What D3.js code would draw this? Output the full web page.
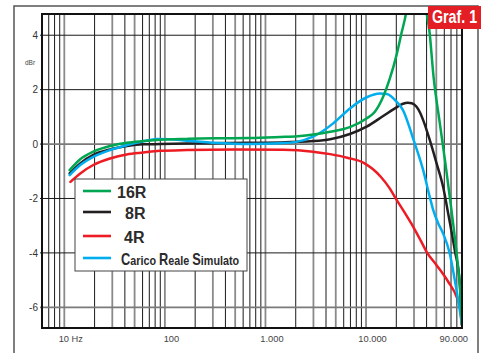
<!DOCTYPE html>
<html><head><meta charset="utf-8">
<script src="https://cdn.jsdelivr.net/npm/d3@7"></script>
<style>body{margin:0;background:#fff}svg{display:block}</style>
</head><body><svg id="c" width="481" height="353"></svg>
<script>
// ---- data ----
const seriesNames = ["16R", "8R", "4R", "Carico Reale Simulato"];
const freq16R = [11.3,14.4,19.4,28.5,42,61,90,165,300,700,1400,2100,3000,4400,7000,10100,12250,14800,17260,20100,22500,24900,28000,32000,36000,39700,42500,47000,54000,61500,70000,80000,86000,90000];
const db16R   = [-0.96,-0.56,-0.28,-0.07,0.05,0.11,0.16,0.19,0.21,0.22,0.26,0.29,0.35,0.45,0.63,0.94,1.19,1.74,2.41,3.27,4.07,4.78,6.2,7.2,6.6,4.9,4.22,2.45,0.8,-0.7,-2.3,-4.1,-5.3,-6.65];
const freq8R = [11.3,14.4,19.4,28.5,42,61,90,165,400,1400,3000,4400,6920,10140,14800,20140,23300,26000,28500,31800,34500,37000,43000,50300,58600,65600,76300,85500,90000];
const db8R   = [-1.08,-0.71,-0.4,-0.2,-0.07,-0.01,0.0,0.02,0.04,0.06,0.11,0.18,0.37,0.64,1.03,1.35,1.48,1.52,1.5,1.37,1.15,0.88,0.15,-0.71,-1.6,-2.55,-3.9,-5.1,-6.65];
const freq4R = [11.5,14.4,19.4,28.5,41.7,61,89,165,500,1500,2970,4400,6500,9378,11500,14000,17000,20140,24500,29460,35000,40000,50280,65640,79500,86000,90000];
const db4R   = [-1.39,-1.08,-0.77,-0.53,-0.38,-0.31,-0.25,-0.22,-0.2,-0.21,-0.28,-0.37,-0.5,-0.68,-0.9,-1.2,-1.6,-2.05,-2.55,-3.04,-3.55,-3.96,-4.45,-5.06,-5.61,-6.0,-6.65];
const freqCRS = [11.3,14.4,19.4,28.5,42,61,83,110,165,300,700,1400,2040,2970,4720,6920,10140,13740,16100,20100,23300,29400,37000,43000,46600,52000,58300,68000,76300,85500,90000];
const dbCRS   = [-1.14,-0.77,-0.47,-0.22,-0.04,0.1,0.19,0.18,0.12,0.05,0.0,0.03,0.08,0.27,0.76,1.31,1.72,1.86,1.84,1.56,1.25,0.2,-0.96,-1.94,-2.43,-2.9,-3.28,-4.02,-5.0,-6.1,-6.65];
const yTicks = [-6, -4, -2, 0, 2, 4];
const xTickValues = [10, 100, 1000, 10000, 90000];
const xTickLabels = ["10 Hz", "100", "1.000", "10.000", "90.000"];

// ---- styles ----
const colors = ["#00a651", "#231f20", "#ed1c24", "#00aeef"];

const svg = d3.select("#c");
const x = d3.scaleLog().domain([6, 90000]).range([42, 462]);
const y = d3.scaleLinear().domain([-6.76, 4.78]).range([328, 14]);

// outer frame
svg.append("path").attr("d", "M14,353V6H478V353").attr("fill", "none")
  .attr("stroke", "#555").attr("stroke-width", 1.5);

// vertical grid
const g = svg.append("g");
x.ticks().forEach(t => {
  const m = Math.round(t / Math.pow(10, Math.floor(Math.log10(t) + 1e-9)));
  const gray = (m === 1 || m === 3 || m === 5);
  g.append("line").attr("x1", x(t)).attr("x2", x(t)).attr("y1", 14).attr("y2", 328)
    .attr("stroke", gray ? "#8a8a8a" : "#1a1a1a").attr("stroke-width", gray ? 1.8 : 1);
});
// horizontal grid
yTicks.forEach(v => {
  const gray = (v === 0 || v === -6);
  g.append("line").attr("x1", 40).attr("x2", 462).attr("y1", y(v)).attr("y2", y(v))
    .attr("stroke", gray ? "#7a7a7a" : "#1a1a1a").attr("stroke-width", gray ? 1.8 : 1);
});

// clip
svg.append("clipPath").attr("id", "pc").append("rect")
  .attr("x", 42).attr("y", 14).attr("width", 420).attr("height", 314);

const seriesData = [
  d3.zip(freq16R, db16R), d3.zip(freq8R, db8R), d3.zip(freq4R, db4R), d3.zip(freqCRS, dbCRS)
];
const line = d3.line().x(d => x(d[0])).y(d => y(d[1])).curve(d3.curveMonotoneX);
const drawOrder = [2, 1, 3, 0];
drawOrder.forEach(i => {
  svg.append("path").attr("clip-path", "url(#pc)").attr("d", line(seriesData[i]))
    .attr("fill", "none").attr("stroke", colors[i]).attr("stroke-width", 2.5)
    .attr("stroke-linejoin", "round").attr("stroke-linecap", "round");
});

// plot frame
svg.append("rect").attr("x", 42).attr("y", 14).attr("width", 420).attr("height", 314)
  .attr("fill", "none").attr("stroke", "#111").attr("stroke-width", 2);

// y labels
yTicks.forEach(v => {
  svg.append("text").attr("x", 38).attr("y", y(v)).attr("dy", "0.36em")
    .attr("text-anchor", "end").attr("font-family", "Liberation Sans, Arial, sans-serif")
    .attr("font-size", 10).attr("fill", "#333").text(v);
});
svg.append("text").attr("x", 30).attr("y", 65).attr("text-anchor", "middle")
  .attr("font-family", "Liberation Sans, Arial, sans-serif").attr("font-size", 6.5)
  .attr("fill", "#444").text("dBr");

// x labels
xTickValues.forEach((v, i) => {
  const last = i === xTickValues.length - 1;
  svg.append("text").attr("x", x(v) + (last ? 6 : 6.5)).attr("y", 342)
    .attr("text-anchor", last ? "end" : "middle")
    .attr("font-family", "Liberation Sans, Arial, sans-serif").attr("font-size", 9.3)
    .attr("fill", "#444").text(xTickLabels[i]);
});

// legend
const lg = svg.append("g");
lg.append("rect").attr("x", 75).attr("y", 179).attr("width", 172).attr("height", 92)
  .attr("fill", "#fff").attr("stroke", "#444").attr("stroke-width", 1);
const lineYs = [191, 212, 236, 258];
const textX = [117, 125, 124, 121];
seriesNames.forEach((n, i) => {
  lg.append("line").attr("x1", 83).attr("x2", 111).attr("y1", lineYs[i]).attr("y2", lineYs[i])
    .attr("stroke", colors[i]).attr("stroke-width", 2.6);
  if (i < 3) {
    lg.append("text").attr("x", textX[i]).attr("y", lineYs[i] + 6.5)
      .attr("font-family", "Liberation Sans, Arial, sans-serif").attr("font-weight", "bold")
      .attr("fill", "#2b2b2b").attr("font-size", 16).text(n);
  } else {
    const t = lg.append("text")
      .attr("transform", `translate(${textX[i]},${lineYs[i] + 6.8}) scale(0.8,1)`)
      .attr("font-family", "Liberation Sans, Arial, sans-serif").attr("font-weight", "bold")
      .attr("fill", "#2b2b2b");
    n.split(" ").forEach((w, k) => {
      t.append("tspan").attr("font-size", 16).text(w[0]);
      t.append("tspan").attr("font-size", 13.5).text(w.slice(1) + (k < 2 ? " " : ""));
    });
  }
});

// Graf. 1 badge
svg.append("rect").attr("x", 428).attr("y", 6).attr("width", 53).attr("height", 23).attr("fill", "#e31e24");
svg.append("text").attr("transform", "translate(432,23) scale(0.75,1)")
  .attr("font-family", "Liberation Sans, Arial, sans-serif")
  .attr("font-weight", "bold").attr("font-size", 19).attr("fill", "#fff").text("Graf. 1");
</script></body></html>
